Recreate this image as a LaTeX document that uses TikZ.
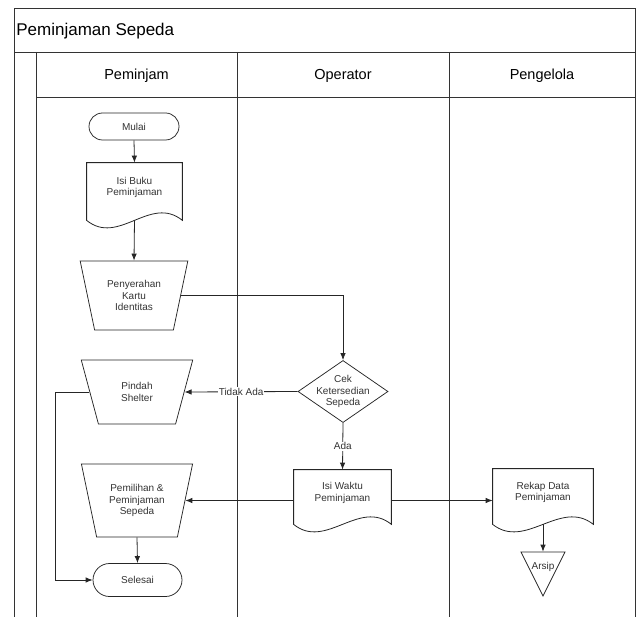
\documentclass[tikz,border=0pt]{standalone}
\usepackage{fontspec}
\setmainfont{Liberation Sans}
\usetikzlibrary{shapes.geometric,shapes.misc,arrows.meta}

\tikzset{every picture/.style={line width=0.75pt}}
\tikzset{
  lane/.style={draw=black!80, line width=0.9pt},
  flow/.style={draw=black!85, line width=0.8pt, -{Latex[length=7pt,width=5.5pt]}},
  txt/.style={font=\fontsize{10}{11.7}\selectfont, text=black!80, align=center},
  termnl/.style={txt, rounded rectangle, draw=black!85, minimum width=90pt, minimum height=27pt, inner sep=0pt},
  docu/.style={txt, rectangle, inner sep=0pt, text depth=10pt},
  manop/.style={txt, trapezium, draw=black!85, trapezium stretches=true, shape border rotate=180, inner sep=2pt},
  decis/.style={txt, diamond, draw=black!85, minimum width=90pt, minimum height=57pt, inner sep=0pt, inner xsep=-12pt},
  arsipbox/.style={txt, isosceles triangle, isosceles triangle stretches=true, shape border rotate=-90, draw=black!85, minimum width=44pt, minimum height=44pt, inner sep=0pt},
  lbl/.style={txt, fill=white, inner sep=1pt}
}

\begin{document}
\begin{tikzpicture}[x=1pt,y=1pt,yscale=-1]
\useasboundingbox (0,0) rectangle (639,617);

%Pool and lanes
\draw [lane] (14,617) -- (14,8) -- (635,8) -- (635,617) ;
\draw [lane] (14,52) -- (635,52) ;
\draw [lane] (36,97) -- (635,97) ;
\draw [lane] (36,52) -- (36,617) ;
\draw [lane] (237,52) -- (237,617) ;
\draw [lane] (449,52) -- (449,617) ;

% Text Node
\node (judul) at (16,36) [anchor=base west, inner sep=0pt, font=\fontsize{17}{20}\selectfont] {Peminjaman Sepeda};
% Text Node
\node (hpeminjam) at (136.5,79.5) [anchor=base, inner sep=0pt, font=\fontsize{14.5}{17}\selectfont] {Peminjam};
% Text Node
\node (hoperator) at (343,79.5) [anchor=base, inner sep=0pt, font=\fontsize{14.5}{17}\selectfont] {Operator};
% Text Node
\node (hpengelola) at (542,79.5) [anchor=base, inner sep=0pt, font=\fontsize{14.5}{17}\selectfont] {Pengelola};

%Peminjam
\node (mulai) at (134,126.5) [termnl] {Mulai};
\node (isibuku) at (134.5,191.5) [docu, minimum width=95pt, minimum height=57pt] {Isi Buku\\Peminjaman};
\draw [black!85, line width=0.8pt] (isibuku.north west) -- (isibuku.north east) -- (isibuku.south east) .. controls +(-32,-26) and +(32,26) .. (isibuku.south west) -- cycle ;
\node (penyerahan) at (134,295.5) [manop, trapezium left angle=73, trapezium right angle=73, minimum width=108pt, minimum height=69pt] {Penyerahan\\Kartu\\Identitas};
\node (pindah) at (137,392) [manop, trapezium left angle=71, trapezium right angle=71, minimum width=112pt, minimum height=64pt] {Pindah\\Shelter};
\node (pemilihan) at (137,500.5) [manop, trapezium left angle=73, trapezium right angle=73, minimum width=112pt, minimum height=73pt] {Pemilihan \&\\Peminjaman\\Sepeda};
\node (selesai) at (137.5,580) [termnl, minimum width=89pt, minimum height=33pt] {Selesai};

%Operator
\node (cek) at (343,391.5) [decis] {Cek\\Ketersedian\\Sepeda};
\node (isiwaktu) at (342.5,497) [docu, minimum width=97pt, minimum height=54pt] {Isi Waktu\\Peminjaman};
\draw [black!85, line width=0.8pt] (isiwaktu.north west) -- (isiwaktu.north east) -- (isiwaktu.south east) .. controls +(-32,-26) and +(32,26) .. (isiwaktu.south west) -- cycle ;

%Pengelola
\node (rekap) at (543,496.5) [docu, minimum width=100pt, minimum height=55pt] {Rekap Data\\Peminjaman};
\draw [black!85, line width=0.8pt] (rekap.north west) -- (rekap.north east) -- (rekap.south east) .. controls +(-33,-26) and +(33,26) .. (rekap.south west) -- cycle ;
\node (arsip) at (543,597) [arsipbox, anchor=apex] {\raisebox{-7pt}[\height][\depth]{Arsip}};

%Connectors
\draw [flow] (mulai.south) -- (isibuku.north) ;
\draw [flow] (isibuku.south) -- (penyerahan.north) ;
\draw [flow] (penyerahan.east) -| (cek.north) ;
\draw [flow] (cek.west) -- node [lbl] {Tidak Ada} (pindah.east) ;
\draw [flow] (cek.south) -- node [lbl] {Ada} (isiwaktu.north) ;
\draw [flow] (isiwaktu.west |- pemilihan.east) -- (pemilihan.east) ;
\draw [flow] (isiwaktu.east |- pemilihan.east) -- (rekap.west |- pemilihan.east) ;
\draw [flow] (pemilihan.south) -- (selesai.north) ;
\draw [flow] (pindah.west) -- ++(-34,0) |- (selesai.west) ;
\draw [flow] (rekap.south) -- (arsip.lower side) ;

\end{tikzpicture}
\end{document}
